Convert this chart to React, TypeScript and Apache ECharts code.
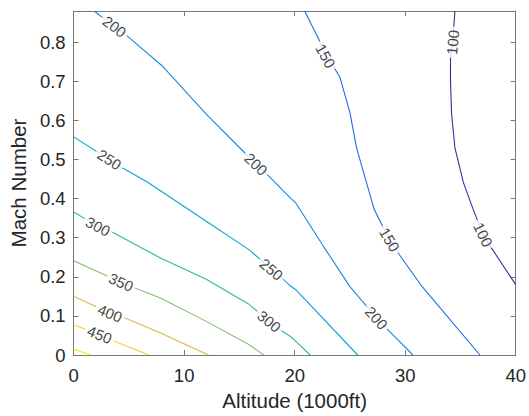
import React, { useEffect, useRef } from "react";
import * as echarts from "echarts";

// Contour levels and their polylines: [altitude (1000ft), Mach]
const levels = [100, 150, 200, 250, 300, 350, 400, 450, 500];

const c100 = [[34.5, 0.88], [34.3, 0.8], [34.1, 0.76], [34.1, 0.7], [34.2, 0.616], [34.5, 0.53], [35.27, 0.441], [36.16, 0.372], [37.05, 0.308], [37.8, 0.274], [40, 0.18]];
const c150 = [[20.9, 0.88], [22.26, 0.803], [22.8, 0.765], [23.66, 0.731], [24.1, 0.71], [25.0, 0.62], [25.6, 0.53], [26.5, 0.441], [27.2, 0.372], [27.97, 0.329], [28.6, 0.295], [29.46, 0.257], [31.5, 0.176], [36.76, 0]];
const c200 = [[1.85, 0.88], [3.7, 0.84], [4.94, 0.814], [8.0, 0.74], [12.0, 0.616], [15.45, 0.518], [16.5, 0.488], [17.5, 0.462], [19.6, 0.402], [20.1, 0.389], [22.6, 0.278], [25.0, 0.175], [27.4, 0.095], [28.6, 0.06], [30.7, 0]];
const c250 = [[0, 0.558], [3.24, 0.5], [4.4, 0.479], [6.7, 0.442], [12.0, 0.342], [15.9, 0.269], [16.9, 0.244], [17.9, 0.219], [19.0, 0.193], [19.6, 0.177], [20.1, 0.167], [25.7, 0]];
const c300 = [[0, 0.366], [2.2, 0.329], [3.4, 0.316], [7.86, 0.248], [12.0, 0.194], [15.9, 0.129], [17.7, 0.086], [18.9, 0.06], [19.6, 0.048], [20.1, 0.035], [21.4, 0]];
const c350 = [[0, 0.241], [4.3, 0.186], [5.6, 0.171], [7.86, 0.146], [12.0, 0.086], [15.9, 0.026], [17.2, 0]];
const c400 = [[0, 0.15], [3.3, 0.107], [4.6, 0.095], [7.86, 0.056], [12.2, 0]];
const c450 = [[0, 0.0776], [2.35, 0.052], [3.7, 0.035], [6.8, 0]];
const c500 = [[0, 0.015], [1.6, 0]];
const contours = [c100, c150, c200, c250, c300, c350, c400, c450, c500];

// Inline label positions per level
const labels100 = [[34.3, 0.8], [37.05, 0.308]];
const labels150 = [[22.8, 0.765], [28.6, 0.295]];
const labels200 = [[3.7, 0.84], [16.5, 0.488], [27.4, 0.095]];
const labels250 = [[3.24, 0.5], [17.9, 0.219]];
const labels300 = [[2.2, 0.329], [17.7, 0.086]];
const labels350 = [[4.3, 0.186]];
const labels400 = [[3.3, 0.107]];
const labels450 = [[2.35, 0.052]];
const labels500: number[][] = [];
const contourLabels = [labels100, labels150, labels200, labels250, labels300, labels350, labels400, labels450, labels500];

const xTicks = [0, 10, 20, 30, 40];
const yTicks = [0, 0.1, 0.2, 0.3, 0.4, 0.5, 0.6, 0.7, 0.8];
const xMax = 40;
const yMax = 0.88;

const colors = ["#3b2e9c", "#1b6ce6", "#1689dc", "#0aa5cc", "#2cb8a6", "#85bf6e", "#dcb64c", "#fcc936", "#f2ee12"];

const W = 529, H = 416;
const G = { left: 70, right: 11, top: 11, bottom: 61 };
const FONT = "'Liberation Sans', Arial, Helvetica, sans-serif";

function angleAt(line: number[][], p: number[]) {
  const kx = (W - G.left - G.right) / xMax;
  const ky = (H - G.top - G.bottom) / yMax;
  let best = 0, bd = Infinity;
  line.forEach((q, i) => {
    const d = Math.hypot((q[0] - p[0]) * kx, (q[1] - p[1]) * ky);
    if (d < bd) { bd = d; best = i; }
  });
  const a = line[Math.max(0, best - 1)];
  const b = line[Math.min(line.length - 1, best + 1)];
  let ang = (Math.atan2((b[1] - a[1]) * ky, (b[0] - a[0]) * kx) * 180) / Math.PI;
  if (ang > 90) ang -= 180;
  if (ang <= -90) ang += 180;
  return ang;
}

export default function App() {
  const ref = useRef<HTMLDivElement>(null);
  useEffect(() => {
    if (!ref.current) return;
    const chart = echarts.init(ref.current, undefined, { renderer: "svg" });
    const axisLine = { show: true, onZero: false, lineStyle: { color: "#777", width: 1 } };
    const tick = { show: true, inside: true, length: 5, lineStyle: { color: "#777", width: 1 } };
    const lineSeries = contours.map((c, i) => ({
      type: "line",
      data: c,
      showSymbol: false,
      symbol: "none",
      lineStyle: { color: colors[i], width: 1.1 },
      z: 2,
      silent: true,
    }));
    const labelData: any[] = [];
    contourLabels.forEach((arr, i) => {
      arr.forEach((p) => {
        labelData.push({
          value: [p[0], p[1]],
          label: {
            show: true,
            position: "inside",
            formatter: String(levels[i]),
            rotate: angleAt(contours[i], p),
          },
        });
      });
    });
    chart.setOption({
      animation: false,
      backgroundColor: "#fff",
      grid: { ...G, containLabel: false },
      xAxis: [
        {
          type: "value", min: 0, max: xMax, interval: 10,
          name: "Altitude (1000ft)", nameLocation: "middle", nameGap: 35,
          nameTextStyle: { fontFamily: FONT, fontSize: 20.5, color: "#262626" },
          axisLine, axisTick: tick,
          axisLabel: { fontFamily: FONT, fontSize: 18.5, color: "#262626", margin: 11 },
          splitLine: { show: false },
        },
        {
          type: "value", position: "top", min: 0, max: xMax, interval: 10,
          axisLine, axisTick: tick, axisLabel: { show: false }, splitLine: { show: false },
        },
      ],
      yAxis: [
        {
          type: "value", min: 0, max: yMax, interval: 0.1,
          name: "Mach Number", nameLocation: "middle", nameGap: 41,
          nameTextStyle: { fontFamily: FONT, fontSize: 20.5, color: "#262626" },
          axisLine, axisTick: tick,
          axisLabel: {
            fontFamily: FONT, fontSize: 18.5, color: "#262626", margin: 8,
            showMaxLabel: false,
            formatter: (v: number) => {
              const t = yTicks.find((y) => Math.abs(y - v) < 1e-6);
              return t === undefined ? "" : String(t);
            },
          },
          splitLine: { show: false },
        },
        {
          type: "value", position: "right", min: 0, max: yMax, interval: 0.1,
          axisLine, axisTick: tick, axisLabel: { show: false }, splitLine: { show: false },
        },
      ],
      series: [
        ...lineSeries,
        {
          type: "scatter",
          data: labelData,
          symbolSize: 0,
          z: 5,
          silent: true,
          label: {
            show: true,
            color: "#111",
            fontFamily: FONT,
            fontSize: 15,
            backgroundColor: "#fff",
            padding: [0, 3],
          },
        },
      ],
    });
    return () => chart.dispose();
  }, []);
  return <div ref={ref} style={{ position: "fixed", left: 0, top: 0, width: W, height: H }} />;
}
